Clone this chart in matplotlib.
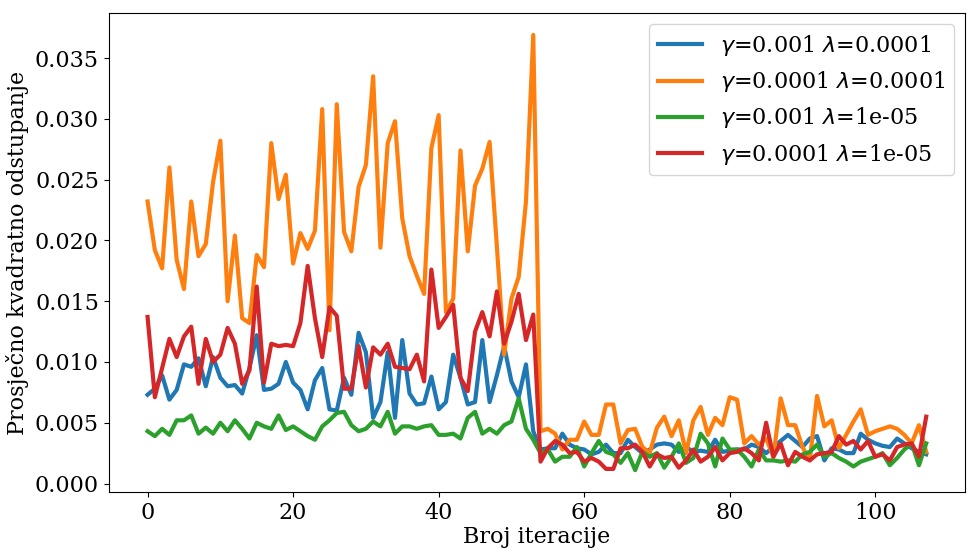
import matplotlib
matplotlib.use("Agg")
import matplotlib.pyplot as plt
import numpy as np

plt.rcParams['font.family'] = ['DejaVu Serif']
plt.rcParams['mathtext.fontset'] = 'dejavusans'

iterations = list(range(108))

blue = [0.0073, 0.0078, 0.0089, 0.0069, 0.0077, 0.0098, 0.0096, 0.0103, 0.0080, 0.0104,
        0.0087, 0.0080, 0.0081, 0.0074, 0.0095, 0.0122, 0.0077, 0.0078, 0.0082, 0.0100,
        0.0083, 0.0077, 0.0061, 0.0085, 0.0095, 0.0061, 0.0060, 0.0087, 0.0073, 0.0124,
        0.0108, 0.0054, 0.0067, 0.0108, 0.0054, 0.0118, 0.0074, 0.0065, 0.0066, 0.0088,
        0.0061, 0.0067, 0.0106, 0.0087, 0.0065, 0.0067, 0.0118, 0.0067, 0.0089, 0.0113,
        0.0084, 0.0071, 0.0098, 0.0043, 0.0028, 0.0029, 0.0029, 0.0041, 0.0032, 0.0029,
        0.0028, 0.0024, 0.0026, 0.0032, 0.0025, 0.0025, 0.0036, 0.0030, 0.0025, 0.0028,
        0.0032, 0.0033, 0.0032, 0.0026, 0.0030, 0.0026, 0.0027, 0.0026, 0.0036, 0.0026,
        0.0027, 0.0028, 0.0028, 0.0032, 0.0030, 0.0025, 0.0030, 0.0035, 0.0040, 0.0035,
        0.0030, 0.0037, 0.0039, 0.0019, 0.0029, 0.0028, 0.0025, 0.0025, 0.0041, 0.0036,
        0.0033, 0.0031, 0.0030, 0.0037, 0.0033, 0.0029, 0.0026, 0.0024]

orange = [0.0232, 0.0192, 0.0177, 0.0260, 0.0184, 0.0160, 0.0232, 0.0187, 0.0197, 0.0248,
          0.0282, 0.0150, 0.0204, 0.0136, 0.0132, 0.0188, 0.0178, 0.0280, 0.0234, 0.0254,
          0.0181, 0.0206, 0.0193, 0.0208, 0.0308, 0.0126, 0.0312, 0.0207, 0.0191, 0.0244,
          0.0262, 0.0335, 0.0194, 0.0280, 0.0298, 0.0218, 0.0187, 0.0171, 0.0156, 0.0276,
          0.0303, 0.0141, 0.0152, 0.0274, 0.0191, 0.0245, 0.0259, 0.0281, 0.0195, 0.0106,
          0.0152, 0.0170, 0.0232, 0.0369, 0.0043, 0.0045, 0.0041, 0.0028, 0.0036, 0.0036,
          0.0051, 0.0040, 0.0040, 0.0065, 0.0065, 0.0033, 0.0044, 0.0045, 0.0030, 0.0025,
          0.0046, 0.0055, 0.0039, 0.0052, 0.0025, 0.0052, 0.0063, 0.0040, 0.0054, 0.0048,
          0.0071, 0.0069, 0.0033, 0.0039, 0.0032, 0.0037, 0.0022, 0.0070, 0.0048, 0.0048,
          0.0030, 0.0019, 0.0072, 0.0047, 0.0052, 0.0029, 0.0040, 0.0051, 0.0061, 0.0040,
          0.0043, 0.0045, 0.0047, 0.0045, 0.0040, 0.0033, 0.0048, 0.0026]

green = [0.0043, 0.0039, 0.0045, 0.0040, 0.0052, 0.0052, 0.0056, 0.0041, 0.0046, 0.0041,
         0.0050, 0.0043, 0.0052, 0.0045, 0.0037, 0.0050, 0.0047, 0.0045, 0.0056, 0.0044,
         0.0047, 0.0043, 0.0039, 0.0036, 0.0047, 0.0052, 0.0058, 0.0059, 0.0048, 0.0043,
         0.0045, 0.0051, 0.0047, 0.0059, 0.0041, 0.0047, 0.0047, 0.0045, 0.0047, 0.0048,
         0.0040, 0.0040, 0.0041, 0.0037, 0.0054, 0.0059, 0.0041, 0.0045, 0.0041, 0.0048,
         0.0051, 0.0070, 0.0045, 0.0036, 0.0025, 0.0028, 0.0018, 0.0022, 0.0022, 0.0030,
         0.0014, 0.0025, 0.0035, 0.0026, 0.0024, 0.0017, 0.0025, 0.0011, 0.0026, 0.0022,
         0.0025, 0.0013, 0.0022, 0.0033, 0.0017, 0.0021, 0.0041, 0.0033, 0.0014, 0.0037,
         0.0028, 0.0028, 0.0022, 0.0014, 0.0028, 0.0019, 0.0019, 0.0018, 0.0019, 0.0018,
         0.0024, 0.0026, 0.0032, 0.0022, 0.0025, 0.0021, 0.0018, 0.0014, 0.0018, 0.0020,
         0.0022, 0.0025, 0.0015, 0.0021, 0.0028, 0.0033, 0.0015, 0.0033]

red = [0.0137, 0.0071, 0.0095, 0.0119, 0.0104, 0.0121, 0.0129, 0.0082, 0.0119, 0.0100,
       0.0106, 0.0128, 0.0115, 0.0082, 0.0093, 0.0162, 0.0083, 0.0115, 0.0113, 0.0114,
       0.0113, 0.0132, 0.0179, 0.0136, 0.0104, 0.0145, 0.0138, 0.0078, 0.0078, 0.0113,
       0.0079, 0.0112, 0.0106, 0.0115, 0.0096, 0.0095, 0.0094, 0.0106, 0.0084, 0.0176,
       0.0128, 0.0137, 0.0147, 0.0087, 0.0076, 0.0125, 0.0141, 0.0121, 0.0158, 0.0115,
       0.0133, 0.0156, 0.0118, 0.0139, 0.0018, 0.0029, 0.0035, 0.0032, 0.0025, 0.0026,
       0.0018, 0.0021, 0.0018, 0.0012, 0.0012, 0.0029, 0.0029, 0.0032, 0.0026, 0.0014,
       0.0024, 0.0021, 0.0022, 0.0013, 0.0019, 0.0028, 0.0018, 0.0022, 0.0030, 0.0019,
       0.0025, 0.0026, 0.0029, 0.0025, 0.0019, 0.0050, 0.0022, 0.0033, 0.0015, 0.0026,
       0.0022, 0.0019, 0.0024, 0.0025, 0.0026, 0.0039, 0.0032, 0.0035, 0.0028, 0.0035,
       0.0022, 0.0024, 0.0019, 0.0030, 0.0032, 0.0033, 0.0022, 0.0055]

labels = [r'$\gamma$=0.001 $\lambda$=0.0001',
          r'$\gamma$=0.0001 $\lambda$=0.0001',
          r'$\gamma$=0.001 $\lambda$=1e-05',
          r'$\gamma$=0.0001 $\lambda$=1e-05']
colors = ['#1f77b4', '#ff7f0e', '#2ca02c', '#d62728']

fig = plt.figure(figsize=(9.7, 5.49), dpi=100)
ax = fig.add_axes([0.112, 0.104, 0.883, 0.872])
for s, lab, c in zip([blue, orange, green, red], labels, colors):
    ax.plot(iterations, s, color=c, lw=3, label=lab)

fs = 16
ax.set_xlabel('Broj iteracije', fontsize=fs, labelpad=2)
ax.set_ylabel('Prosječno kvadratno odstupanje', fontsize=fs)
ax.tick_params(labelsize=fs)
ax.set_yticks(np.arange(0, 0.0351, 0.005))
ax.yaxis.set_major_formatter(matplotlib.ticker.FormatStrFormatter('%.3f'))
ax.legend(loc='upper right', fontsize=fs)
fig.savefig('out.png', dpi=100)
